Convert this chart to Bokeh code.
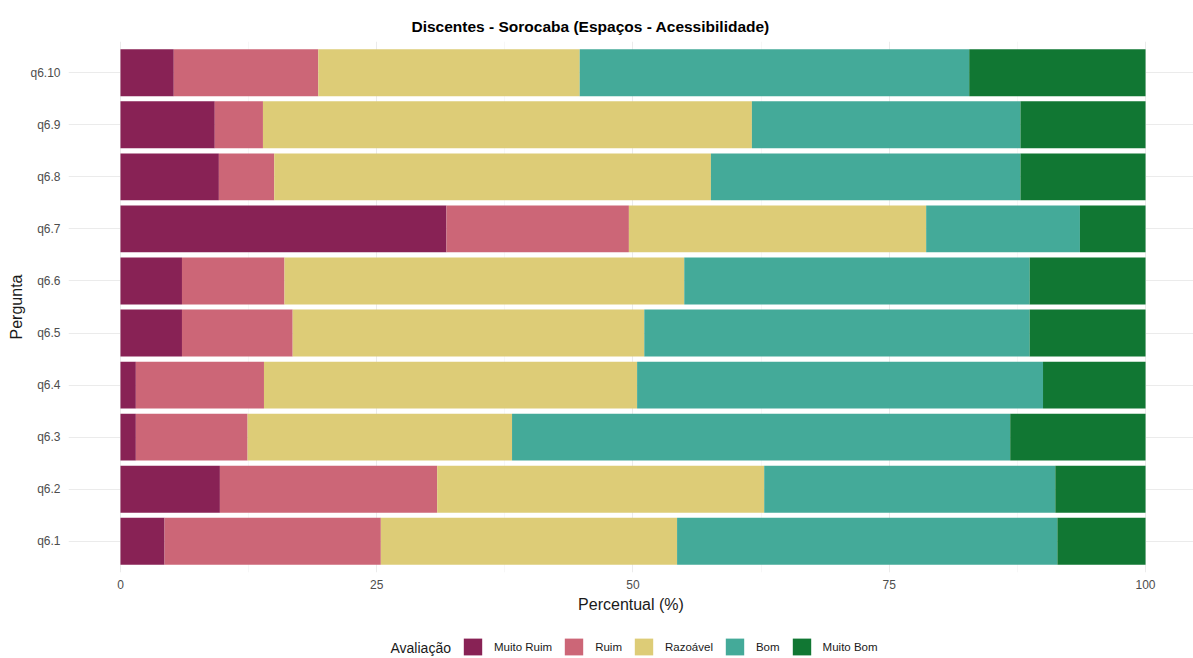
from bokeh.plotting import figure
from bokeh.layouts import column
from bokeh.models import Range1d, FixedTicker, Legend, LegendItem, ColumnDataSource, Label
from bokeh.embed import file_html
from bokeh.resources import INLINE

categories = ["q6.1", "q6.2", "q6.3", "q6.4", "q6.5", "q6.6", "q6.7", "q6.8", "q6.9", "q6.10"]
muito_ruim = [4.3, 9.7, 1.5, 1.5, 6.0, 6.0, 31.8, 9.6, 9.2, 5.2]
ruim = [21.1, 21.2, 10.9, 12.5, 10.8, 10.0, 17.8, 5.4, 4.7, 14.1]
razoavel = [28.9, 31.9, 25.8, 36.4, 34.3, 39.0, 29.0, 42.6, 47.7, 25.5]
bom = [37.1, 28.4, 48.6, 39.6, 37.6, 33.7, 15.0, 30.2, 26.2, 38.0]
muito_bom = [8.6, 8.8, 13.2, 10.0, 11.3, 11.3, 6.4, 12.2, 12.2, 17.2]
levels = ["Muito Ruim", "Ruim", "Razoável", "Bom", "Muito Bom"]
colors = ["#882255", "#CC6677", "#DDCC77", "#44AA99", "#117733"]
x_ticks = [0, 25, 50, 75, 100]

FONT = "Liberation Sans"
W = 1193
H_MAIN = 628
H_LEG = 30
LEFT = 68

ypos = list(range(1, len(categories) + 1))
source = ColumnDataSource(dict(y=ypos, mr=muito_ruim, r=ruim, rz=razoavel, b=bom, mb=muito_bom))
keys = ["mr", "r", "rz", "b", "mb"]

p = figure(width=W, height=H_MAIN, output_backend="svg", toolbar_location=None,
           x_range=Range1d(-5.07, 104.68), y_range=Range1d(0.4, 10.6),
           min_border_left=LEFT, min_border_right=0, min_border_top=41, min_border_bottom=56)
p.outline_line_color = None
p.background_fill_color = "white"

renderers = p.hbar_stack(keys, y="y", height=0.9, color=colors, line_color=None, source=source)

p.title.text = "Discentes - Sorocaba (Espaços - Acessibilidade)"
p.title.align = "left"
p.title.offset = 343
p.title.standoff = 13
p.title.text_font = FONT
p.title.text_font_size = "15.5px"
p.title.text_font_style = "bold"
p.title.text_color = "#000000"

xt = FixedTicker(ticks=x_ticks, minor_ticks=[12.5, 37.5, 62.5, 87.5])
p.xaxis.ticker = xt
p.xgrid.ticker = xt
p.xaxis.axis_label = "Percentual (%)"
p.yaxis.axis_label = "Pergunta"
p.yaxis.ticker = FixedTicker(ticks=ypos)
p.ygrid.ticker = FixedTicker(ticks=ypos)
p.yaxis.major_label_overrides = {i: c for i, c in zip(ypos, categories)}

for ax in (p.xaxis, p.yaxis):
    ax.axis_line_color = None
    ax.major_tick_line_color = None
    ax.minor_tick_line_color = None
    ax.major_tick_out = 0
    ax.major_tick_in = 0
    ax.major_label_text_font = FONT
    ax.major_label_text_font_size = "12px"
    ax.major_label_text_color = "#4d4d4d"
    ax.axis_label_text_font = FONT
    ax.axis_label_text_font_size = "16px"
    ax.axis_label_text_font_style = "normal"
    ax.axis_label_text_color = "#1a1a1a"
p.xaxis.major_label_standoff = 3
p.yaxis.major_label_standoff = 8
p.xaxis.axis_label_standoff = 4
p.yaxis.axis_label_standoff = 2

p.xgrid.grid_line_color = "#ebebeb"
p.xgrid.grid_line_width = 1
p.xgrid.minor_grid_line_color = "#f2f2f2"
p.xgrid.minor_grid_line_width = 0.6
p.ygrid.grid_line_color = "#ebebeb"
p.ygrid.grid_line_width = 1

# legend strip (its renderers lie outside its visible ranges; only the legend shows)
leg = figure(width=W, height=H_LEG, output_backend="svg", toolbar_location=None,
             x_range=Range1d(1000, 1001), y_range=Range1d(1000, 1001),
             x_axis_type=None, y_axis_type=None,
             min_border_left=LEFT, min_border_right=0, min_border_top=0, min_border_bottom=0)
leg.outline_line_color = None
leg.xgrid.visible = False
leg.ygrid.visible = False
key_renderers = [leg.hbar(y="y", right=k, height=0.9, color=c, line_color=None, source=source)
                 for k, c in zip(keys, colors)]
items = [LegendItem(label=l, renderers=[r]) for l, r in zip(levels, key_renderers)]
legend = Legend(items=items, orientation="horizontal", location=(461 - LEFT, 1))
legend.background_fill_alpha = 0
legend.border_line_color = None
legend.label_text_font = FONT
legend.label_text_font_size = "11.5px"
legend.label_text_color = "#1a1a1a"
legend.glyph_width = 23
legend.glyph_height = 21
legend.label_standoff = 10
legend.spacing = 10
legend.padding = 0
legend.margin = 0
leg.add_layout(legend, "center")
leg.add_layout(Label(x=390 - LEFT, y=11, x_units="screen", y_units="screen", text="Avaliação",
                     text_font=FONT, text_font_size="14px", text_color="#1a1a1a",
                     text_baseline="middle"))

layout = column(p, leg, spacing=0)
open("out.html", "w").write(file_html(layout, INLINE))
